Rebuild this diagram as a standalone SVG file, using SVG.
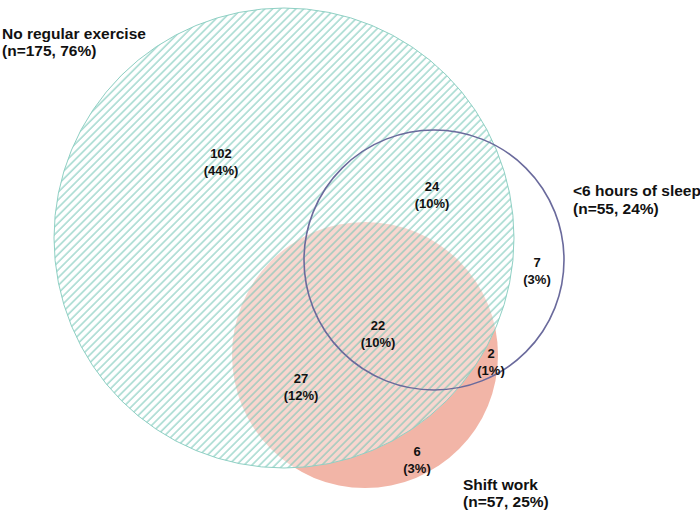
<svg xmlns="http://www.w3.org/2000/svg" width="700" height="510" viewBox="0 0 700 510">
<defs>
<pattern id="hatch" patternUnits="userSpaceOnUse" width="5.5" height="5.5" patternTransform="rotate(45)">
<rect width="5.5" height="5.5" fill="#ffffff" fill-opacity="0.45"/>
<line x1="1" y1="0" x2="1" y2="5.5" stroke="#6fc2b3" stroke-width="1.3" stroke-opacity="0.75"/>
</pattern>
<style>
.lbl{font-family:"Liberation Sans",Arial,sans-serif;font-weight:bold;font-size:15.5px;fill:#111}
.num{font-family:"Liberation Sans",Arial,sans-serif;font-weight:bold;font-size:13px;fill:#111;text-anchor:middle}
</style>
</defs>
<rect width="700" height="510" fill="#ffffff"/>
<g id="shift-work">
<circle cx="365" cy="355" r="133" fill="#f2b5a7"/>
</g>
<g id="no-exercise">
<circle cx="284" cy="238" r="230" fill="url(#hatch)" stroke="#8fd0c4" stroke-width="1"/>
</g>
<g id="sleep">
<circle cx="434" cy="260" r="130" fill="none" stroke="#6a6a9c" stroke-width="1.6"/>
</g>
<g id="labels">
<text class="lbl" x="2" y="39">No regular exercise</text>
<text class="lbl" x="2" y="56">(n=175, 76%)</text>
<text class="lbl" x="573" y="196">&lt;6 hours of sleep</text>
<text class="lbl" x="573" y="214">(n=55, 24%)</text>
<text class="lbl" x="463" y="490">Shift work</text>
<text class="lbl" x="463" y="507">(n=57, 25%)</text>
<text class="num" x="221" y="158">102</text>
<text class="num" x="221" y="175">(44%)</text>
<text class="num" x="432" y="191">24</text>
<text class="num" x="432" y="208">(10%)</text>
<text class="num" x="537" y="267">7</text>
<text class="num" x="537" y="284">(3%)</text>
<text class="num" x="378" y="330">22</text>
<text class="num" x="378" y="347">(10%)</text>
<text class="num" x="491" y="358">2</text>
<text class="num" x="491" y="375">(1%)</text>
<text class="num" x="301" y="383">27</text>
<text class="num" x="301" y="400">(12%)</text>
<text class="num" x="417" y="456">6</text>
<text class="num" x="417" y="473">(3%)</text>
</g>
</svg>
